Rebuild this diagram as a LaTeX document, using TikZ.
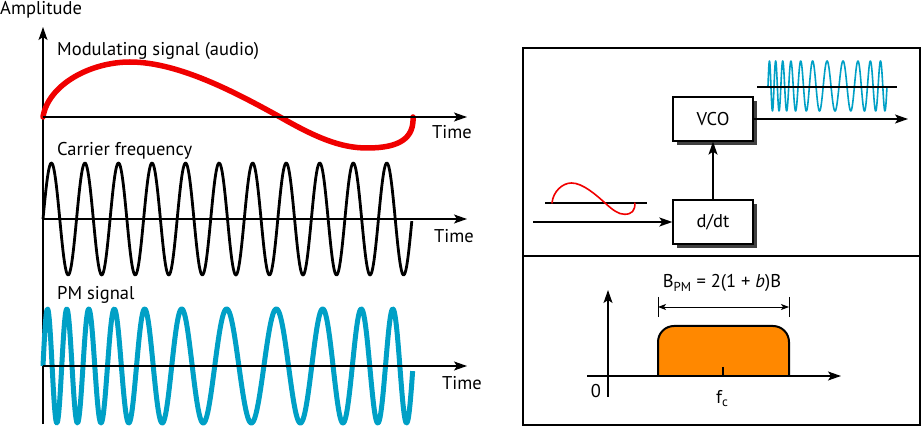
\documentclass[tikz,border=0pt]{standalone}
\usepackage{fontspec}
\setmainfont{PT Sans}
\usetikzlibrary{arrows.meta,shadows}
\definecolor{pmcyan}{RGB}{0,160,198}
\definecolor{spec}{RGB}{255,136,0}
\definecolor{redsig}{RGB}{240,0,0}
\begin{document}
\begin{tikzpicture}[x=1pt,y=-1pt,
  font=\fontsize{18.5}{22}\selectfont,
  axis/.style={line width=1.3pt,-{Stealth[length=13pt,width=9pt,inset=3pt]}},
  arr/.style={line width=1.6pt,-{Stealth[length=13pt,width=9pt,inset=3pt]}},
  lbl/.style={anchor=base west,inner sep=0pt},
  blk/.style={draw,line width=1.3pt,fill=white,minimum width=80pt,minimum height=44pt,
    drop shadow={shadow xshift=4pt,shadow yshift=-4pt,fill=black!75,opacity=1}},
  redline/.style={draw=redsig,line cap=round},
  pmline/.style={draw=pmcyan},
  dimarrow/.style={line width=0.8pt,{Stealth[length=8pt,width=6pt,inset=2pt]}-{Stealth[length=8pt,width=6pt,inset=2pt]}}]
\useasboundingbox (0,0) rectangle (921,427);

% ---------- left panel ----------
\node[lbl] (amp) at (0,15) {Amplitude};
\coordinate (vbot) at (43,424);
\coordinate (vtop) at (43,27);
\draw[axis] (vbot) -- (vtop);

% modulating signal
\node[lbl] (modl) at (57,56) {Modulating signal (audio)};
\coordinate (a1s) at (43,117);
\coordinate (a1e) at (467,117);
\draw[redline,line width=5.5pt] (43,117) .. controls (48,85) and (90,62) .. (130,62)
  .. controls (180,62) and (240,95) .. (280,117)
  .. controls (315,137) and (340,148) .. (367,148)
  .. controls (400,148) and (414,138) .. (413,117);
\draw[axis] (a1s) -- (a1e);
\node[lbl] (t1) at (432,139) {Time};

% carrier
\node[lbl] (carl) at (57,156) {Carrier frequency};
\coordinate (a2s) at (43,219);
\coordinate (a2e) at (467,219);
\draw[line width=2.8pt,line join=round] plot[domain=0:1,samples=500] ({43+369*\x},{219-56*sin(3960*\x)});
\draw[axis] (a2s) -- (a2e);
\node[lbl] (t2) at (434,243) {Time};

% PM signal
\node[lbl] (pml) at (57,300) {PM signal};
\coordinate (a3s) at (43,366);
\coordinate (a3e) at (467,366);
\draw[pmline,line width=5pt,line join=round] plot[domain=0:1,samples=700]
  ({43+370*\x},{366-57*sin(deg(69.115*\x+85*\x*(0.73-\x)*(1-\x)))});
\draw[axis] (a3s) -- (a3e);
\node[lbl] (t3) at (442,390) {Time};

% ---------- right panel ----------
\draw[line width=1.3pt] (523,48) rectangle (920,425);
\draw[line width=1.3pt] (523,256) -- (920,256);

\node[blk] (vco) at (713,119) {VCO};
\node[blk] (ddt) at (713,222) {d/dt};
\coordinate (inp) at (533,222);
\coordinate (out) at (908,119);
\draw[arr] (ddt) -- (vco);
\draw[arr] (inp) -- (ddt);
\draw[arr] (vco) -- (out);

% small red signal
\coordinate (sra) at (545,203);
\coordinate (srb) at (647,203);
\draw[line width=1.3pt] (sra) -- (srb);
\begin{scope}[shift={(552,203)},xscale=0.224,yscale=0.364]
\draw[redline,line width=1.6pt] (0,0) .. controls (5,-32) and (47,-55) .. (87,-55)
  .. controls (137,-55) and (197,-22) .. (237,0)
  .. controls (272,20) and (297,31) .. (324,31)
  .. controls (357,31) and (371,21) .. (370,0);
\end{scope}

% small PM signal
\draw[pmline,line width=1.6pt,line join=round] plot[domain=0:1,samples=500]
  ({768+119*\x},{86-25*sin(deg(69.115*\x+85*\x*(0.73-\x)*(1-\x)))});
\coordinate (spa) at (757,87);
\coordinate (spb) at (897,87);
\draw[line width=1.3pt] (spa) -- (spb);

% spectrum
\draw[fill=spec,line width=2pt,rounded corners=16pt] (658,376) -- (658,326) -- (789,326) -- (789,376);
\coordinate (xs) at (587,376);
\coordinate (xe) at (841,376);
\coordinate (ys) at (608,397);
\coordinate (ye) at (608,290);
\draw[axis] (xs) -- (xe);
\draw[axis] (ys) -- (ye);
\node[anchor=center,inner sep=0pt] (zero) at (596,391) {0};
\draw[line width=1.3pt] (723,367) -- (723,376);
\node[lbl] (fc) at (716,404) {f\textsubscript{c}};

\coordinate (dl) at (658,307);
\coordinate (dr) at (789,307);
\draw[line width=0.8pt] (658,297) -- (658,317);
\draw[line width=0.8pt] (789,297) -- (789,317);
\draw[dimarrow] (dl) -- (dr);
\node[anchor=base,inner sep=0pt] (bpm) at (722,288) {B\textsubscript{PM} = 2(1 + \textit{b})B};
\end{tikzpicture}
\end{document}
